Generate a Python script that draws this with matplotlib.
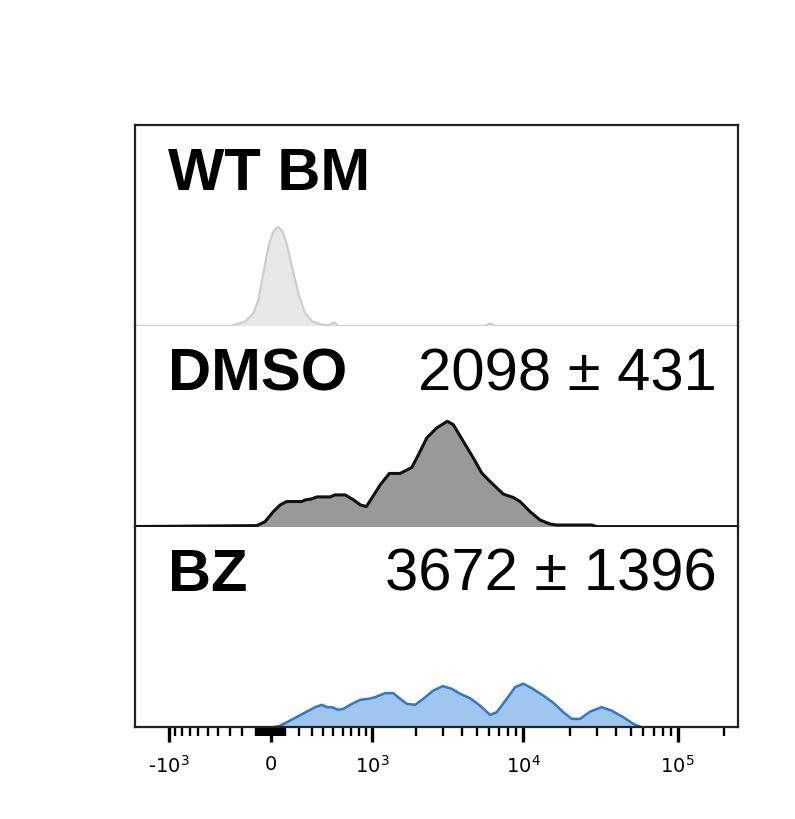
import matplotlib
matplotlib.use('Agg')
import matplotlib.pyplot as plt

# histogram traces (fluorescence value, cell count in % of panel height)
wt_x = [-2000, -283, -180, -120, -85, -50, -15, 19, 50, 82, 117, 160, 203, 249,
        307, 373, 450, 511, 552, 5600, 6090, 6600, 262144]
wt_y = [0, 0, 2.2, 6.4, 13, 26.4, 39.7, 47.2, 49.4, 47.2, 39.7, 26.4, 14.7, 6.4,
        2.2, 0.9, 0.3, 1.7, 0, 0, 1.3, 0, 0]

dmso_x = [-2000, -96, -38, 19, 66, 113, 223, 249, 302, 344, 467, 516, 627, 731,
          822, 909, 995, 1141, 1320, 1562, 1872, 2070, 2352, 2735, 3210, 3514,
          4082, 4741, 5385, 6090, 7427, 8626, 9533, 11066, 12848, 14909, 16483,
          27766, 29910, 262144]
dmso_y = [0, 0.5, 2.5, 7.5, 10.8, 12.5, 12.5, 13.3, 13.8, 14.8, 14.8, 15.8, 15.8,
          13.3, 10.8, 10, 14.2, 20.8, 26.5, 26.5, 29.5, 35.8, 44.2, 49.2, 52.5,
          50.8, 42.5, 34.2, 26.7, 22.5, 16.2, 14.5, 12.5, 7.5, 3.3, 1.3, 0.8,
          0.8, 0, 0]

bz_x = [-2000, 19, 66, 160, 262, 330, 389, 435, 484, 552, 607, 710, 822, 944,
        1050, 1233, 1405, 1562, 1733, 1970, 2233, 2598, 2995, 3429, 3886, 4514,
        5244, 6090, 6729, 7818, 8853, 10020, 11352, 13500, 15672, 18196, 20620,
        23344, 27086, 32230, 37410, 44490, 51630, 58510, 262144]
bz_y = [0, 0, 0.8, 4.2, 7.8, 10, 11.2, 10, 10, 8.7, 9.2, 11.7, 13.7, 14.2, 15,
        17, 17, 14.2, 11.7, 11.2, 14.2, 18.3, 20.5, 19.2, 16.7, 14.5, 10.8, 6.2,
        7.5, 14.2, 20, 21.7, 19.5, 15.8, 12.2, 7.5, 4.2, 4.2, 7.8, 10, 8.3, 5,
        1.7, 0, 0]

names = ['WT BM', 'DMSO', 'BZ']
mfi = ['', '2098 \u00b1 431', '3672 \u00b1 1396']

major_ticks = [-1000, 0, 1000, 10000, 100000]
major_labels = ['-$10^{3}$', '0', '$10^{3}$', '$10^{4}$', '$10^{5}$']
minor_ticks = ([-m * 100 for m in range(2, 10)] + [-m * 10 for m in range(1, 10)] + [-100]
               + [m * 10 for m in range(1, 10)] + [m * 100 for m in range(1, 10)]
               + [m * 1000 for m in range(2, 10)] + [m * 10000 for m in range(2, 10)]
               + [200000])

traces = [(wt_x, wt_y, '#e8e8e8', '#cdcdcd', 1.6),
          (dmso_x, dmso_y, '#999999', '#111111', 2.2),
          (bz_x, bz_y, '#9fc6ef', '#2f78cc', 1.8)]

fig = plt.figure(figsize=(7.95, 8.19), dpi=100)
gs = fig.add_gridspec(3, 1, left=0.17, right=0.928, bottom=0.112, top=0.847, hspace=0)
axes = [fig.add_subplot(gs[i]) for i in range(3)]

for i, ax in enumerate(axes):
    xs, ys, fc, ec, lw = traces[i]
    ax.set_xscale('asinh', linear_width=463)
    ax.fill_between(xs, ys, 0, color=fc, lw=0)
    ax.plot(xs, ys, color=ec, lw=lw)
    ax.set_xlim(-1714, 245000)
    ax.set_ylim(0, 100)
    ax.set_yticks([])
    ax.set_xticks(major_ticks)
    ax.set_xticks(minor_ticks, minor=True)
    for s in ax.spines.values():
        s.set_linewidth(1.6)
        s.set_color('#222222')
    if i > 0:
        ax.spines['top'].set_visible(False)
    if i < 2:
        ax.spines['bottom'].set_visible(False)
        ax.tick_params(axis='x', which='both', bottom=False, labelbottom=False)

    ax.text(0.054, 0.68, names[i], transform=ax.transAxes, fontsize=43,
            fontweight='bold', family='Liberation Sans', va='baseline', ha='left')
    if mfi[i]:
        ax.text(0.965, 0.68, mfi[i], transform=ax.transAxes, fontsize=43,
                family='Liberation Sans', va='baseline', ha='right')

bx = axes[2]
bx.set_xticklabels(major_labels)
bx.tick_params(axis='x', which='major', length=11, width=2.4, direction='out',
               labelsize=14, pad=9)
bx.tick_params(axis='x', which='minor', length=6.5, width=1.7, direction='out')

plt.savefig('out.png', dpi=100)
plt.close()
